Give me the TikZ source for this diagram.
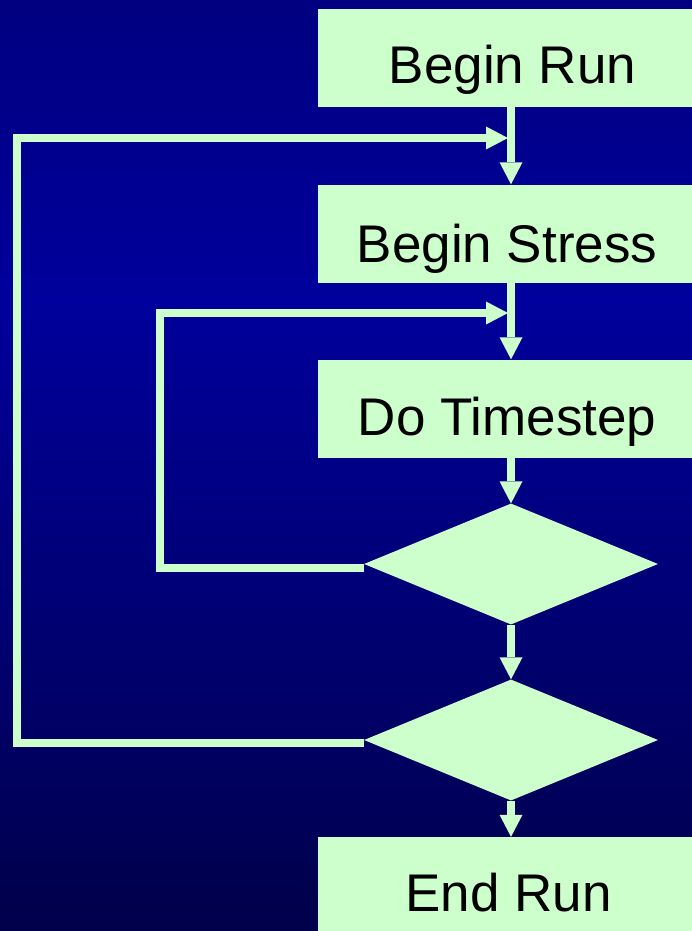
\documentclass[tikz,border=0pt]{standalone}
\usepackage{fontspec}
\setmainfont{Liberation Sans}
\usetikzlibrary{shapes.geometric,arrows.meta}

\definecolor{mint}{HTML}{CCFFCC}
\definecolor{bgtop}{HTML}{000080}
\definecolor{bgmid}{HTML}{00009C}
\definecolor{bglow}{HTML}{000088}
\definecolor{bgbot}{HTML}{00004A}

\tikzset{
  stage/.style={rectangle, fill=mint, draw=none, inner sep=0pt,
    minimum width=386pt, minimum height=98pt},
  test/.style={diamond, fill=mint, draw=none, inner sep=0pt,
    minimum width=294pt, minimum height=121pt},
  lbl/.style={anchor=base, inner sep=0pt, text=black,
    font=\fontsize{53}{60}\selectfont},
  flow/.style={draw=mint, line width=8pt, line join=miter,
    -{Triangle[length=22pt, width=23pt, line width=0pt]}},
}

\begin{document}
\begin{tikzpicture}[x=1pt, y=-1pt]
  % page frame and background
  \useasboundingbox (0,0) rectangle (692,931);
  \clip (0,0) rectangle (692,931);
  \shade[top color=bgtop, bottom color=bgmid] (0,0) rectangle (692,300);
  \shade[top color=bgmid, middle color=bglow, bottom color=bgbot] (0,300) rectangle (692,931);

  % process boxes
  \node[stage] (run)    at (511,58)    {};
  \node[stage] (stress) at (511,233.5) {};
  \node[stage] (step)   at (511,408.5) {};
  \node[stage] (end)    at (511,886)   {};

  % decisions
  \node[test] (d1) at (511,564) {};
  \node[test] (d2) at (511,740) {};

  % box texts
  \node[lbl] (runlbl)    at (512.5,83.3) {Begin Run};
  \node[lbl] (stresslbl) at (507,262.7)  {Begin Stress};
  \node[lbl] (steplbl)   at (507,435)    {Do Timestep};
  \node[lbl] (endlbl)    at (508.5,911)  {End Run};

  % loop corners and re-entry points on the main line
  \coordinate (j2) at (508,138);
  \coordinate (c2) at (17,138);
  \coordinate (j1) at (508,313);
  \coordinate (c1) at (160,313);

  % main flow
  \draw[flow] (run.south)    -- (stress.north);
  \draw[flow] (stress.south) -- (step.north);
  \draw[flow] (step.south)   -- (d1.north);
  \draw[flow] (d1.south)     -- (d2.north);
  \draw[flow] (d2.south)     -- (end.north);

  % feedback loops, leaving just below each decision's left corner
  \draw[flow] ([yshift=-4pt]d1.west) -| (c1) -- (j1);
  \draw[flow] ([yshift=-3pt]d2.west) -| (c2) -- (j2);
\end{tikzpicture}
\end{document}
